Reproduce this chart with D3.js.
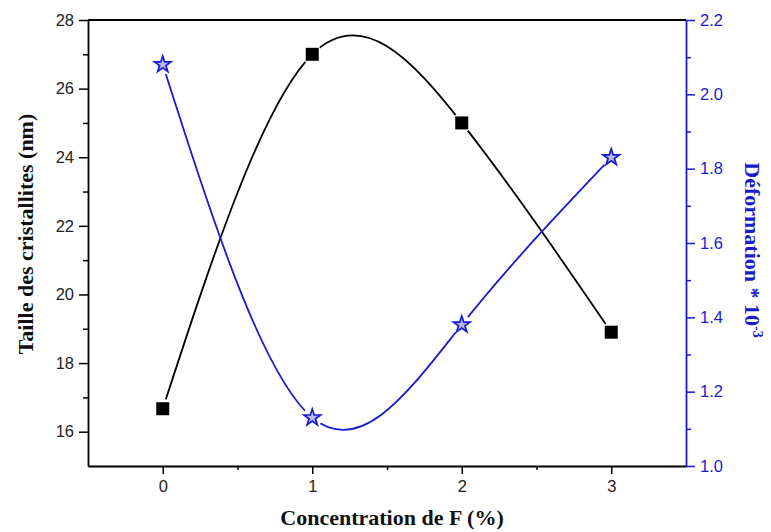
<!DOCTYPE html>
<html><head><meta charset="utf-8">
<script src="https://cdn.jsdelivr.net/npm/d3@7"></script>
<style>body{margin:0;background:#fff}</style>
</head><body>
<svg id="c" width="771" height="532"></svg>
<script>
const concentrations = [0, 1, 2, 3];
const tailleValues = [16.67, 27.0, 25.0, 18.9];
const deformationValues = [2.08, 1.13, 1.38, 1.83];
const xTicks = [0, 1, 2, 3];
const xMinorTicks = [0.5, 1.5, 2.5];
const leftTicks = [16, 18, 20, 22, 24, 26, 28];
const leftMinorTicks = [17, 19, 21, 23, 25, 27];
const rightTicks = [1.0, 1.2, 1.4, 1.6, 1.8, 2.0, 2.2];
const rightMinorTicks = [1.1, 1.3, 1.5, 1.7, 1.9, 2.1];

const svg = d3.select("#c");
const L = 88, R = 686, T = 20, B = 466;
const blue = "#1a1ad0";
const x = d3.scaleLinear().domain([-0.5, 3.5]).range([L, R]);
const yL = d3.scaleLinear().domain([15, 28]).range([B, T]);
const yR = d3.scaleLinear().domain([1.0, 2.2]).range([B, T]);

const g = svg.append("g");

// curves
const lineL = d3.line().x((d,i)=>x(concentrations[i])).y(d=>yL(d)).curve(d3.curveNatural);
const lineR = d3.line().x((d,i)=>x(concentrations[i])).y(d=>yR(d)).curve(d3.curveNatural);
g.append("path").attr("d", lineL(tailleValues)).attr("fill","none").attr("stroke","#000").attr("stroke-width",1.8);
g.append("path").attr("d", lineR(deformationValues)).attr("fill","none").attr("stroke",blue).attr("stroke-width",1.8);

// gaps around markers
concentrations.forEach((c,i)=>{
  g.append("circle").attr("cx",x(c)).attr("cy",yL(tailleValues[i])).attr("r",10).attr("fill","#fff");
  g.append("circle").attr("cx",x(c)).attr("cy",yR(deformationValues[i])).attr("r",10).attr("fill","#fff");
});

// markers
g.selectAll(".sq").data(tailleValues).enter().append("rect")
  .attr("x",(d,i)=>x(concentrations[i])-6.5).attr("y",d=>yL(d)-6.5)
  .attr("width",13).attr("height",13).attr("fill","#000");
const star = d3.symbol().type(d3.symbolStar).size(85);
g.selectAll(".st").data(deformationValues).enter().append("path")
  .attr("d", star).attr("transform",(d,i)=>`translate(${x(concentrations[i])},${yR(d)})`)
  .attr("fill","#b8b8f4").attr("stroke",blue).attr("stroke-width",1.7);

// axes
const fontTick = "'Liberation Sans', Arial, sans-serif";
const bottom = svg.append("g").attr("transform",`translate(0,${B})`)
  .call(d3.axisBottom(x).tickValues(xTicks).tickFormat(d3.format("d")).tickSize(8).tickSizeOuter(0).tickPadding(6));
const bottomMinor = svg.append("g").attr("transform",`translate(0,${B})`)
  .call(d3.axisBottom(x).tickValues(xMinorTicks).tickSize(4).tickSizeOuter(0).tickFormat(""));
const left = svg.append("g").attr("transform",`translate(${L},0)`)
  .call(d3.axisLeft(yL).tickValues(leftTicks).tickSize(9).tickSizeOuter(0).tickPadding(5));
const leftMinor = svg.append("g").attr("transform",`translate(${L},0)`)
  .call(d3.axisLeft(yL).tickValues(leftMinorTicks).tickSize(5).tickSizeOuter(0).tickFormat(""));
const right = svg.append("g").attr("transform",`translate(${R},0)`)
  .call(d3.axisRight(yR).tickValues(rightTicks).tickFormat(d3.format(".1f")).tickSize(9).tickSizeOuter(0).tickPadding(5));
const rightMinor = svg.append("g").attr("transform",`translate(${R},0)`)
  .call(d3.axisRight(yR).tickValues(rightMinorTicks).tickSize(5).tickSizeOuter(0).tickFormat(""));
bottomMinor.select(".domain").remove();
leftMinor.select(".domain").remove();
rightMinor.select(".domain").remove();
svg.selectAll(".domain").attr("stroke-width",1.8);
svg.selectAll(".tick line").attr("stroke-width",1.5);
svg.selectAll("g text").attr("font-family",fontTick).attr("font-size",16.5).attr("fill","#222");
// top frame line
svg.append("line").attr("x1",L).attr("x2",R).attr("y1",T).attr("y2",T).attr("stroke","#000").attr("stroke-width",1.8);
[right, rightMinor].forEach(a=>{
  a.selectAll(".domain,.tick line").attr("stroke",blue);
  a.selectAll("text").attr("fill",blue);
});
right.raise();

// titles
const fontTitle = "'Liberation Serif', 'Times New Roman', serif";
svg.append("text").attr("x",392).attr("y",525).attr("text-anchor","middle")
  .attr("font-family",fontTitle).attr("font-weight","bold").attr("font-size",22).attr("fill","#111")
  .text("Concentration de F (%)");
svg.append("text").attr("transform",`translate(33,234) rotate(-90)`).attr("text-anchor","middle")
  .attr("font-family",fontTitle).attr("font-weight","bold").attr("font-size",22).attr("fill","#111")
  .text("Taille des cristallites (nm)");
const rt = svg.append("text").attr("transform",`translate(745,250) rotate(90)`).attr("text-anchor","middle")
  .attr("font-family",fontTitle).attr("font-weight","bold").attr("font-size",22).attr("fill",blue);
rt.append("tspan").text("Déformation * 10");
rt.append("tspan").attr("dy",-8).attr("font-size",14).text("-3");
</script>
</body></html>
